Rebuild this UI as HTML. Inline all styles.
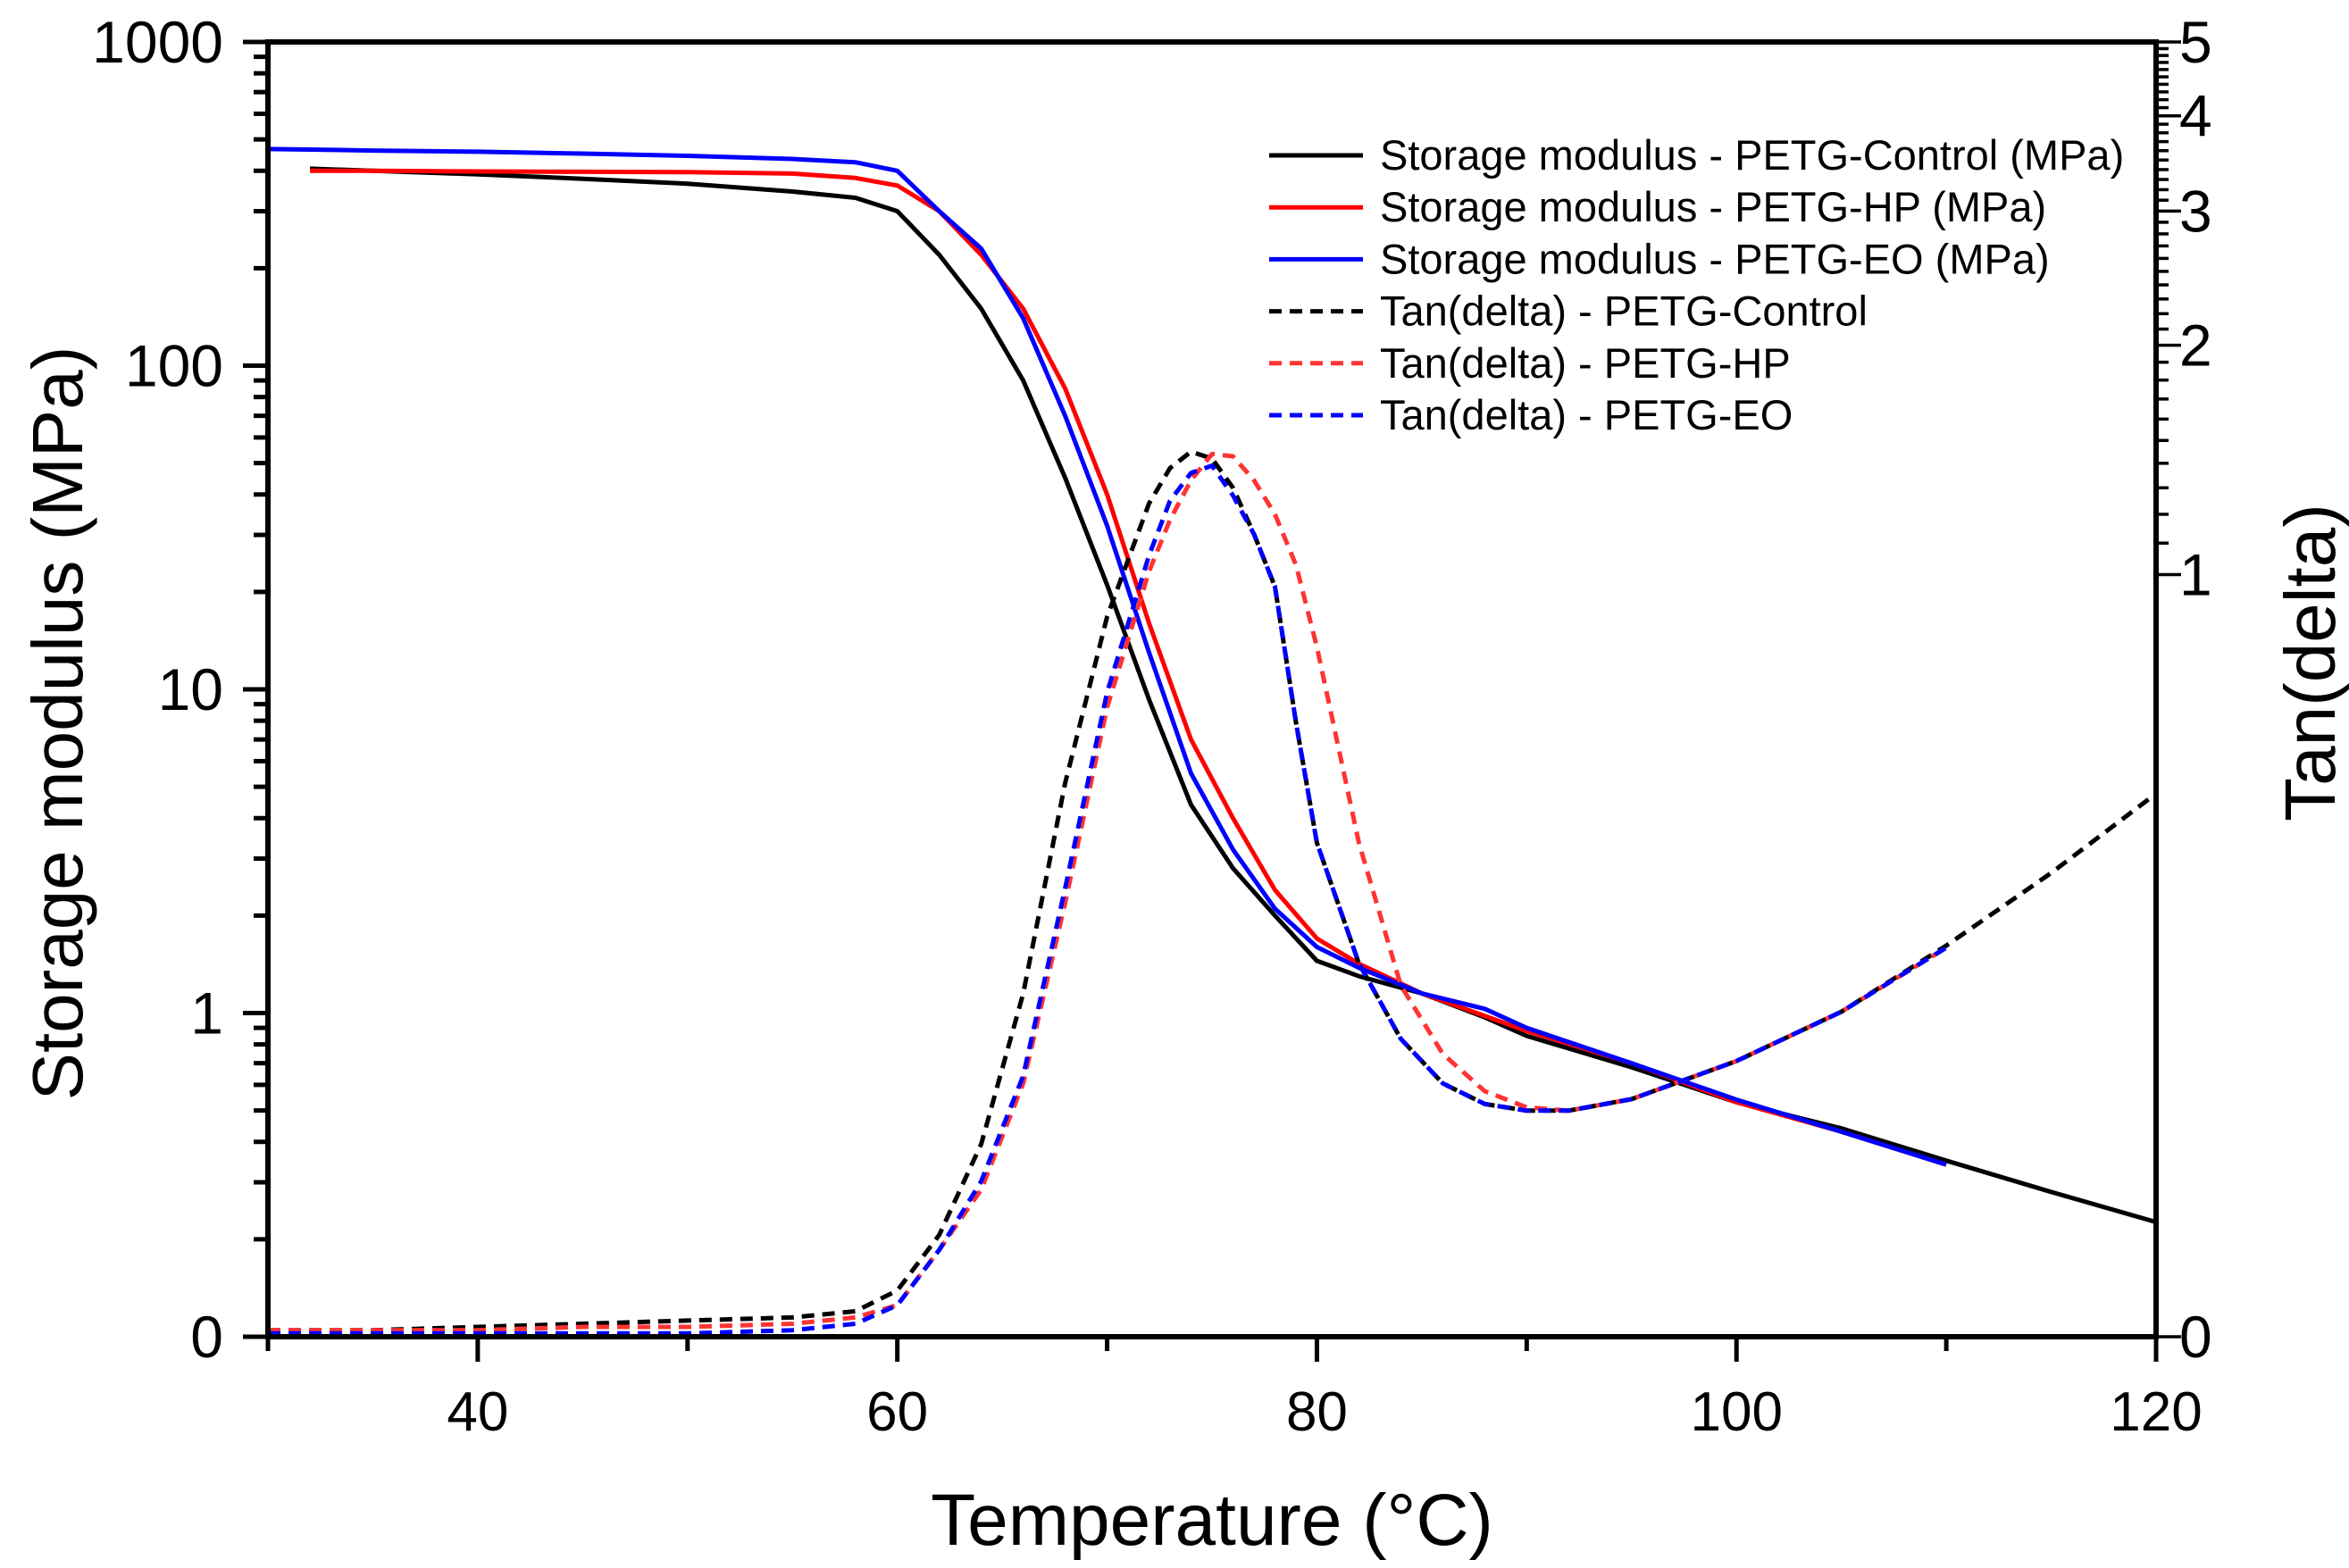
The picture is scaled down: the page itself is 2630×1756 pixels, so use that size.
<!DOCTYPE html>
<html><head><meta charset="utf-8"><style>
body{margin:0;background:#fff}
svg{display:block;font-family:"Liberation Sans",Arial,sans-serif}
</style></head><body>
<svg id="chart" width="2630" height="1756" viewBox="0 0 2630 1756" xmlns="http://www.w3.org/2000/svg">
<g id="grid-layer"></g>
</svg>
<script>
const temps = [30,32,35,40,45,50,55,58,60,62,64,66,68,70,72,74,76,78,80,82,85,88,90,95,100,105,110,115,120];
const smControl = [null,406,400,390,378,365,345,330,300,220,150,90,45,21,9.3,4.4,2.8,2.0,1.45,1.3,1.15,0.97,0.85,0.68,0.53,0.44,0.35,0.28,0.226];
const smHP = [null,400,400,398,397,396,392,380,360,300,220,150,85,40,16,7,4,2.4,1.7,1.42,1.15,0.98,0.88,0.7,0.53,0.43,0.34,null,null];
const smEO = [467,465,462,458,452,445,435,425,400,300,230,140,70,32,13,5.5,3.2,2.1,1.6,1.38,1.15,1.03,0.9,0.7,0.54,0.43,0.34,null,null];
const tanTemps = [30,35,40,45,50,55,58,60,62,64,66,68,70,72,73,74,75,76,77,78,79,80,82,84,86,88,90,92,95,100,105,110,115,120];
const tanControl = [0.102,0.102,0.103,0.104,0.105,0.106,0.108,0.115,0.136,0.179,0.282,0.533,0.881,1.24,1.38,1.45,1.42,1.30,1.13,0.964,0.64,0.445,0.309,0.246,0.215,0.202,0.198,0.198,0.205,0.230,0.267,0.326,0.406,0.516];
const tanHP = [0.102,0.102,0.102,0.103,0.103,0.104,0.106,0.110,0.130,0.156,0.215,0.371,0.670,1.01,1.18,1.33,1.44,1.43,1.33,1.20,1.03,0.804,0.445,0.289,0.235,0.210,0.200,0.198,0.205,0.230,0.267,0.324,null,null];
const tanEO = [0.101,0.101,0.101,0.101,0.101,0.102,0.104,0.110,0.130,0.160,0.220,0.388,0.701,1.06,1.25,1.36,1.39,1.27,1.13,0.964,0.64,0.445,0.309,0.246,0.215,0.202,0.198,0.198,0.205,0.230,0.267,0.324,null,null];
const xTicks = [40,60,80,100,120];
const leftTicks = [0.1,1,10,100,1000];
const leftTickLabels = ["0","1","10","100","1000"];
const rightTicks = [0.1,1,2,3,4,5];
const rightTickLabels = ["0","1","2","3","4","5"];
const legendLabels = ["Storage modulus - PETG-Control (MPa)","Storage modulus - PETG-HP (MPa)","Storage modulus - PETG-EO (MPa)","Tan(delta) - PETG-Control","Tan(delta) - PETG-HP","Tan(delta) - PETG-EO"];

const L=300,R=2414,T=47,B=1497;
const NS="http://www.w3.org/2000/svg";
const svg=document.getElementById('chart');
function xS(v){return L+(v-30)/90*(R-L);}
function yL(v){return B-(Math.log10(v)+1)/4*(B-T);}
function yR(v){return B-(Math.log10(v)+1)/Math.log10(50)*(B-T);}
function mk(tag,attrs){const e=document.createElementNS(NS,tag);for(const k in attrs)e.setAttribute(k,attrs[k]);svg.appendChild(e);return e;}
function line(x1,y1,x2,y2,w){return mk('line',{x1:x1,y1:y1,x2:x2,y2:y2,stroke:'#000','stroke-width':w});}
function txt(x,y,s,size,anchor){const e=mk('text',{x:x,y:y,'font-size':size,'text-anchor':anchor||'middle',fill:'#000'});e.textContent=s;return e;}

function series(xs,ys,scale,color,dash,name){
  let d='';let pen=false;
  for(let i=0;i<xs.length;i++){
    if(ys[i]==null){pen=false;continue;}
    d+=(pen?'L':'M')+xS(xs[i]).toFixed(1)+' '+scale(ys[i]).toFixed(1)+' ';pen=true;
  }
  const p=mk('path',{d:d,fill:'none',stroke:color,'stroke-width':5,'stroke-linejoin':'round'});
  if(dash)p.setAttribute('stroke-dasharray','14 9');
  
  
}
series(temps,smControl,yL,'#000',false,'storage-control-line');
series(temps,smHP,yL,'#f00',false,'storage-hp-line');
series(temps,smEO,yL,'#00f',false,'storage-eo-line');
series(tanTemps,tanControl,yR,'#000',true,'tan-control-line');
series(tanTemps,tanHP,yR,'#f33',true,'tan-hp-line');
series(tanTemps,tanEO,yR,'#00f',true,'tan-eo-line');

const fr=mk('rect',{x:L,y:T,width:R-L,height:B-T,fill:'none',stroke:'#000','stroke-width':6});



for(let v=30;v<=120;v+=10){const maj=(v%20===0);line(xS(v),B,xS(v),B+(maj?28:16),5);}
xTicks.forEach(v=>{const t=txt(xS(v),1602,String(v),62);});
for(let d=-1;d<3;d++){for(let m=1;m<10;m++){const v=m*Math.pow(10,d);line(L,yL(v),L-(m===1?28:16),yL(v),5);}}
line(L,yL(1000),L-28,yL(1000),5);
leftTicks.forEach((v,i)=>{const t=txt(250,yL(v)+23,leftTickLabels[i],66,'end');});
for(let k=10;k<=50;k++){const v=k/10;const maj=(k%10===0);line(R,yR(v),R+(maj?28:14),yR(v),3.5);}
line(R,yR(0.1),R+28,yR(0.1),3.5);
rightTicks.forEach((v,i)=>{const t=txt(2440,yR(v)+23,rightTickLabels[i],66,'start');});

const xt=txt(1357,1730,'Temperature (°C)',82);
const yt=txt(0,0,'Storage modulus (MPa)',80);yt.setAttribute('transform','translate(92,810) rotate(-90)');
const rt=txt(0,0,'Tan(delta)',80);rt.setAttribute('transform','translate(2614,742) rotate(-90)');

const lc=['#000','#f00','#00f','#000','#f33','#00f'];
legendLabels.forEach((s,i)=>{
  const y=174+i*58.2;
  const l=line(1421,y,1526,y,5);l.setAttribute('stroke',lc[i]);
  if(i>=3)l.setAttribute('stroke-dasharray','14 9');
  
  
  const t=txt(1545,y+16,s,47,'start');
  
  
});
</script>
</body></html>
